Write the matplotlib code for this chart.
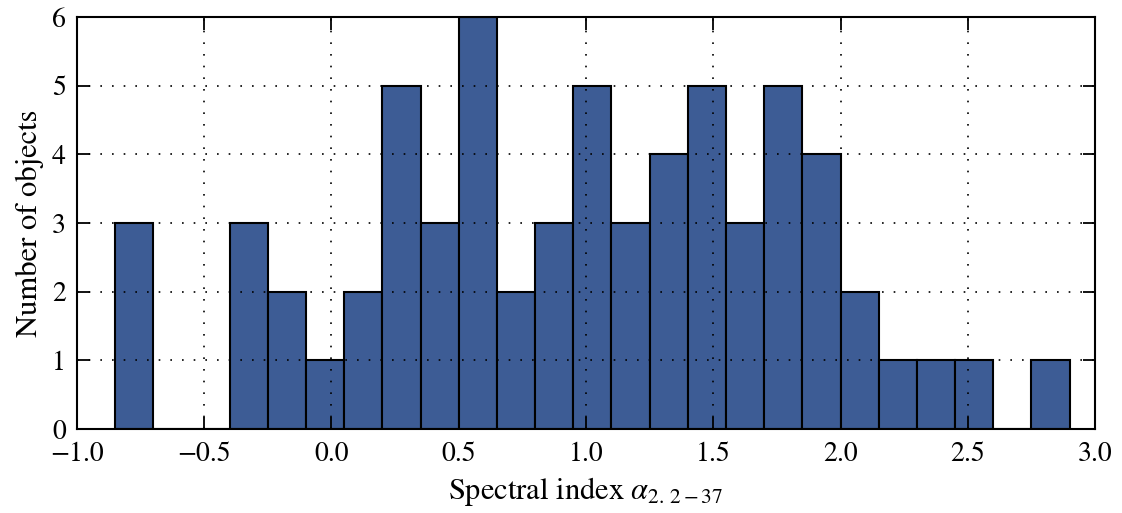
import numpy as np
import matplotlib
matplotlib.use("Agg")
import matplotlib.pyplot as plt

# histogram bins of the spectral index and object counts per bin
bin_edges = np.round(np.arange(-0.85, 2.9001, 0.15), 2)
counts = [3, 0, 0, 3, 2, 1, 2, 5, 3, 6, 2, 3, 5, 3, 4, 5, 3, 5, 4, 2, 1, 1, 1, 0, 1]
xticks = [-1.0, -0.5, 0.0, 0.5, 1.0, 1.5, 2.0, 2.5, 3.0]
yticks = [0, 1, 2, 3, 4, 5, 6]

plt.rcParams["font.family"] = "STIXGeneral"
plt.rcParams["mathtext.fontset"] = "stix"
plt.rcParams["axes.unicode_minus"] = True

fig = plt.figure(figsize=(11.22, 5.13), dpi=100)
ax = fig.add_axes([0.0686, 0.1637, 0.9074, 0.8032])

centers = (bin_edges[:-1] + bin_edges[1:]) / 2
ax.hist(centers, bins=bin_edges, weights=counts, color="#3d5c95",
        edgecolor="black", linewidth=1.5, zorder=1)

ax.set_xlim(-1.0, 3.0)
ax.set_ylim(0, 6)
ax.set_xticks(xticks)
ax.set_yticks(yticks)
ax.set_xticklabels(["%.1f" % t if t >= 0 else "\u2212%.1f" % -t for t in xticks])

ax.grid(True, color="black", linestyle=(0, (1, 6)), linewidth=1.2, zorder=3)
ax.set_axisbelow(False)

ax.tick_params(direction="in", top=True, right=True, length=9, width=1.3,
               labelsize=20)
ax.tick_params(axis="x", pad=9)
ax.tick_params(axis="y", pad=8)
for sp in ax.spines.values():
    sp.set_linewidth(1.5)

ax.set_xlabel(r"Spectral index $\alpha_{2.\,2-37}$", fontsize=22, labelpad=6)
ax.set_ylabel("Number of objects", fontsize=22, labelpad=6)

fig.savefig("out.png", dpi=100)
